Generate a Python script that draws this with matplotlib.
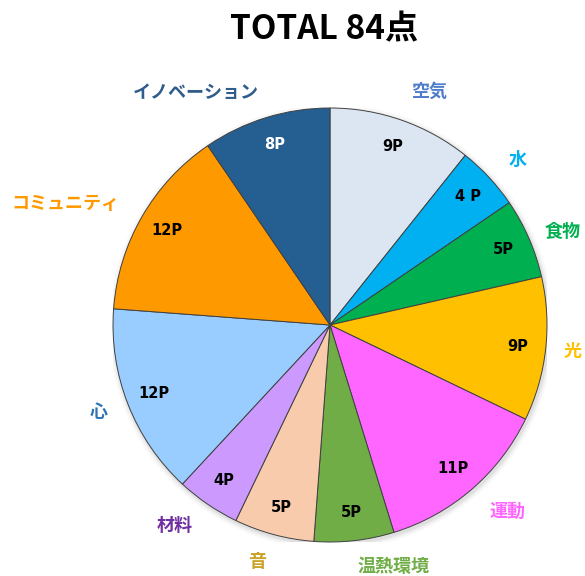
import numpy as np
import matplotlib
matplotlib.use("Agg")
import matplotlib.pyplot as plt
from matplotlib.patches import Circle

plt.rcParams['font.family'] = ['Noto Sans CJK JP', 'DejaVu Sans']

# data, clockwise from 12 o'clock
categories = ['空気', '水', '食物', '光', '運動', '温熱環境', '音', '材料', '心', 'コミュニティ', 'イノベーション']
points = [9, 4, 5, 9, 11, 5, 5, 4, 12, 12, 8]
value_labels = ['9P', '4 P', '5P', '9P', '11P', '5P', '5P', '4P', '12P', '12P', '8P']

slice_colors = ['#DCE6F2', '#00B0F0', '#00B050', '#FFC000', '#FF66FF', '#70AD47',
                '#F8CBAD', '#CC99FF', '#99CCFF', '#FF9900', '#255E91']
label_colors = ['#4F7CC9', '#00B0F0', '#00B050', '#FFC000', '#FF66FF', '#70AD47',
                '#C9A227', '#7030A0', '#2E75B6', '#FF9900', '#2F5C8A']
value_colors = ['black'] * 10 + ['white']
label_dist = [1.14, 1.12, 1.08, 1.085, 1.13, 1.12, 1.13, 1.12, 1.1, 1.12, 1.12]

fig = plt.figure(figsize=(5.85, 5.76), dpi=100)
ax = fig.add_axes([113 / 585, (576 - 325 - 217) / 576, 434 / 585, 434 / 576])

# soft shadow behind the pie
for r, a in [(1.025, 0.05), (1.015, 0.08), (1.007, 0.12)]:
    ax.add_patch(Circle((0.006, -0.01), r, color='grey', alpha=a, lw=0, zorder=0))

wedges, _ = ax.pie(points, colors=slice_colors, startangle=90, counterclock=False,
                   wedgeprops=dict(edgecolor='#404040', linewidth=0.7))

for w, cat, lc, d, lab, vc in zip(wedges, categories, label_colors, label_dist,
                                  value_labels, value_colors):
    mid = np.deg2rad((w.theta1 + w.theta2) / 2)
    x, y = np.cos(mid), np.sin(mid)
    ax.text(d * x, d * y, cat, ha='left' if x > 0 else 'right', va='center',
            fontsize=13, fontweight='bold', color=lc)
    ax.text(0.87 * x, 0.87 * y, lab, ha='center', va='center',
            fontsize=10.5, fontweight='bold', color=vc, family='DejaVu Sans')

ax.set_xlim(-1, 1)
ax.set_ylim(-1, 1)
ax.set_aspect('equal')

fig.text(324 / 585, 1 - 30 / 576, 'TOTAL 84点', ha='center', va='center',
         fontsize=24, fontweight='bold')

fig.savefig('out.png', dpi=100)
